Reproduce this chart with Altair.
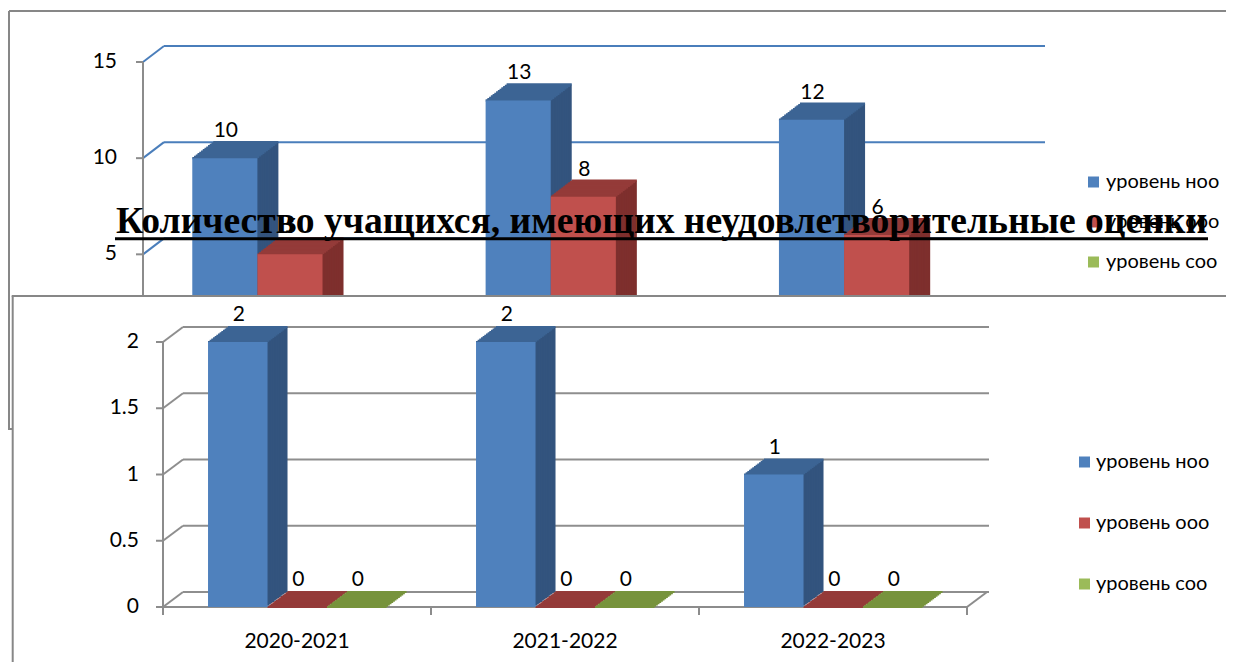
import altair as alt
import pandas as pd

# ---------------- data ----------------
categories = ["2020-2021", "2021-2022", "2022-2023"]
series = ["уровень ноо", "уровень ооо", "уровень соо"]

top_noo = [10, 13, 12]
top_ooo = [5, 8, 6]
top_soo = [0, 0, 0]

bottom_noo = [2, 2, 1]
bottom_ooo = [0, 0, 0]
bottom_soo = [0, 0, 0]

top_ticks = [0, 5, 10, 15]
top_tick_labels = ["0", "5", "10", "15"]
bottom_ticks = [0, 0.5, 1, 1.5, 2]
bottom_tick_labels = ["0", "0.5", "1", "1.5", "2"]

title_text = "Количество учащихся, имеющих неудовлетворительные оценки"

front_colors = ["#4F81BD", "#C0504D", "#9BBB59"]
top_colors = ["#3C6494", "#943B39", "#77933C"]
side_colors = ["#33547E", "#7E2F2D", "#637B31"]

FONT = "Lato"
dummy = pd.DataFrame({"d": [0]})


def bars_frame(value_lists):
    rows = []
    for si, vals in enumerate(value_lists):
        for ci, v in enumerate(vals):
            rows.append({"cat": categories[ci], "ci": ci, "s": series[si], "si": si, "v": v})
    return pd.DataFrame(rows)


def panel(p):
    layers = []
    xs = alt.Scale(domain=[0, 3], range=p["xr"], nice=False, zero=False)
    ys = alt.Scale(domain=p["yd"], range=p["yr"], nice=False, zero=False)
    dx, dy = p["dx"], p["dy"]
    ax = p["ax"]
    grid = pd.DataFrame({"t": p["ticks"], "lab": p["labels"]})

    # back wall gridlines
    layers.append(
        alt.Chart(grid).mark_rule(color=p["gc"], strokeWidth=2, yOffset=-dy).encode(
            y=alt.Y("t:Q", scale=ys, axis=None),
            x=alt.value(p["gx0"]), x2=alt.value(p["gx1"]))
    )
    # side wall diagonals
    layers.append(
        alt.Chart(grid).mark_rule(color=p["gc"], strokeWidth=2, y2Offset=-dy).encode(
            y=alt.Y("t:Q", scale=ys, axis=None), y2=alt.Y2("t:Q"),
            x=alt.value(ax), x2=alt.value(ax + dx))
    )
    # y axis line
    layers.append(
        alt.Chart(grid).mark_rule(color="#8C8C8C", strokeWidth=2).encode(
            y=alt.Y("max(t):Q", scale=ys, axis=None), y2=alt.Y2("min(t)"),
            x=alt.value(ax))
    )
    # ticks
    layers.append(
        alt.Chart(grid).mark_rule(color="#8C8C8C", strokeWidth=2).encode(
            y=alt.Y("t:Q", scale=ys, axis=None),
            x=alt.value(ax - 7), x2=alt.value(ax))
    )
    # tick labels
    layers.append(
        alt.Chart(grid).mark_text(align="right", baseline="middle", font=FONT,
                                  fontSize=21, color="#000000").encode(
            y=alt.Y("t:Q", scale=ys, axis=None),
            x=alt.value(p["lx"]), text="lab:N")
    )

    if p.get("floor"):
        edges = pd.DataFrame({"e": [0, 1, 2, 3]})
        layers.append(
            alt.Chart(dummy).mark_rule(color="#8C8C8C", strokeWidth=2).encode(
                x=alt.X(datum=0, scale=xs, axis=None), x2=alt.X2(datum=3),
                y=alt.Y(datum=0, scale=ys, axis=None))
        )
        layers.append(
            alt.Chart(dummy).mark_rule(color="#8C8C8C", strokeWidth=2,
                                       x2Offset=dx, y2Offset=-dy).encode(
                x=alt.X(datum=3, scale=xs, axis=None), x2=alt.X2(datum=3),
                y=alt.Y(datum=0, scale=ys, axis=None), y2=alt.Y2(datum=0))
        )
        layers.append(
            alt.Chart(edges).mark_rule(color="#8C8C8C", strokeWidth=2).encode(
                x=alt.X("e:Q", scale=xs, axis=None),
                y=alt.value(p["floor_y"]), y2=alt.value(p["floor_y"] + 8))
        )
        cats = pd.DataFrame({"cat": categories, "ci": list(range(len(categories)))})
        layers.append(
            alt.Chart(cats).transform_calculate(c="datum.ci + 0.5").mark_text(
                align="center", baseline="middle", font=FONT, fontSize=21,
                color="#000000").encode(
                x=alt.X("c:Q", scale=xs, axis=None),
                y=alt.value(p["cat_y"]), text="cat:N")
        )

    bars = bars_frame(p["values"])
    calc = dict(u0="datum.ci + 0.168 + datum.si * 0.222",
                u1="datum.ci + 0.168 + datum.si * 0.222 + 0.222",
                um="datum.ci + 0.168 + datum.si * 0.222 + 0.111")

    def enc_rect(colors):
        return dict(
            x=alt.X("u0:Q", scale=xs, axis=None), x2=alt.X2("u1:Q"),
            y=alt.Y("v:Q", scale=ys, axis=None), y2=alt.Y2(datum=0),
            color=alt.Color("s:N", scale=alt.Scale(domain=series, range=colors), legend=None),
        )

    N = 12
    # side faces (extruded staircase)
    for k in range(N, 0, -1):
        ox = k * dx / N
        oy = -k * dy / N
        layers.append(
            alt.Chart(bars).transform_calculate(**calc).mark_rect(
                xOffset=ox, x2Offset=ox, yOffset=oy, y2Offset=oy).encode(**enc_rect(side_colors))
        )
    # top faces
    for k in range(N, -1, -1):
        ox = k * dx / N
        oy = -k * dy / N
        layers.append(
            alt.Chart(bars).transform_calculate(**calc).mark_rule(
                xOffset=ox, x2Offset=ox, yOffset=oy, strokeWidth=dy / N + 0.9).encode(
                x=alt.X("u0:Q", scale=xs, axis=None), x2=alt.X2("u1:Q"),
                y=alt.Y("v:Q", scale=ys, axis=None),
                color=alt.Color("s:N", scale=alt.Scale(domain=series, range=top_colors), legend=None))
        )
    # front faces
    layers.append(
        alt.Chart(bars).transform_calculate(**calc).mark_rect().encode(**enc_rect(front_colors))
    )
    # data labels
    layers.append(
        alt.Chart(bars).transform_calculate(**calc).mark_text(
            align="center", baseline="middle", font=FONT, fontSize=21, color="#000000",
            dy=-27, dx=1).encode(
            x=alt.X("um:Q", scale=xs, axis=None),
            y=alt.Y("v:Q", scale=ys, axis=None), text="v:Q")
    )
    # legend
    leg = pd.DataFrame({"s": series})
    lys = alt.Scale(domain=series, range=p["leg_y"], padding=0)
    layers.append(
        alt.Chart(leg).mark_square(size=121, opacity=1).encode(
            x=alt.value(p["leg_sq_x"]),
            y=alt.Y("s:N", scale=lys, axis=None),
            color=alt.Color("s:N", scale=alt.Scale(domain=series, range=front_colors), legend=None))
    )
    layers.append(
        alt.Chart(leg).mark_text(align="left", baseline="middle", font=FONT, fontSize=20,
                                 color="#000000").encode(
            x=alt.value(p["leg_tx"]),
            y=alt.Y("s:N", scale=lys, axis=None), text="s:N")
    )
    return layers


top_panel = dict(
    xr=[135, 1015], yd=[0, 15], yr=[342.5, 54], dx=21, dy=16, ax=135,
    ticks=top_ticks, labels=top_tick_labels, gc="#4A7EBB", gx0=156, gx1=1037,
    lx=109, values=[top_noo, top_ooo, top_soo],
    leg_y=[174, 254], leg_sq_x=1085.5, leg_tx=1098,
)
bottom_panel = dict(
    xr=[155, 959], yd=[0, 2], yr=[599, 334], dx=20, dy=15, ax=155,
    ticks=bottom_ticks, labels=bottom_tick_labels, gc="#8E8E8E", gx0=175, gx1=981,
    lx=131, values=[bottom_noo, bottom_ooo, bottom_soo],
    floor=True, floor_y=599, cat_y=634,
    leg_y=[454, 576], leg_sq_x=1076.5, leg_tx=1088,
)

layers = []
# frame of the first (upper) chart (top and left edges only are visible)
layers.append(
    alt.Chart(dummy).mark_rule(color="#878787", strokeWidth=2).encode(
        x=alt.value(1), x2=alt.value(1218), y=alt.value(3))
)
layers.append(
    alt.Chart(dummy).mark_rule(color="#878787", strokeWidth=2).encode(
        x=alt.value(1), y=alt.value(3), y2=alt.value(421))
)
layers.append(
    alt.Chart(dummy).mark_rule(color="#878787", strokeWidth=2).encode(
        x=alt.value(0), x2=alt.value(10), y=alt.value(421))
)
layers += panel(top_panel)
# second (lower) chart area covering the first
layers.append(
    alt.Chart(dummy).mark_rect(fill="#FFFFFF").encode(
        x=alt.value(4.7), x2=alt.value(1218), y=alt.value(288), y2=alt.value(654))
)
layers.append(
    alt.Chart(dummy).mark_rule(color="#878787", strokeWidth=2).encode(
        x=alt.value(3.7), x2=alt.value(1218), y=alt.value(288))
)
layers.append(
    alt.Chart(dummy).mark_rule(color="#878787", strokeWidth=2).encode(
        x=alt.value(4.7), y=alt.value(288), y2=alt.value(654))
)
layers += panel(bottom_panel)
# overlapping title with underline
layers.append(
    alt.Chart(dummy).mark_text(text=title_text, font="Liberation Serif", fontSize=37.6,
                               fontWeight="bold", align="center", baseline="alphabetic",
                               color="#000000").encode(
        x=alt.value(653.5), y=alt.value(225))
)
layers.append(
    alt.Chart(dummy).mark_rule(color="#000000", strokeWidth=3).encode(
        x=alt.value(107), x2=alt.value(1200), y=alt.value(230.7))
)

chart = alt.layer(*layers).resolve_scale(
    x="independent", y="independent", color="independent"
).properties(
    width=1218, height=654, padding=0, autosize=alt.AutoSizeParams(type="none"),
    background="#FFFFFF",
).configure_view(stroke=None)

chart.save("out.html", embed_options={"renderer": "svg", "actions": False})
